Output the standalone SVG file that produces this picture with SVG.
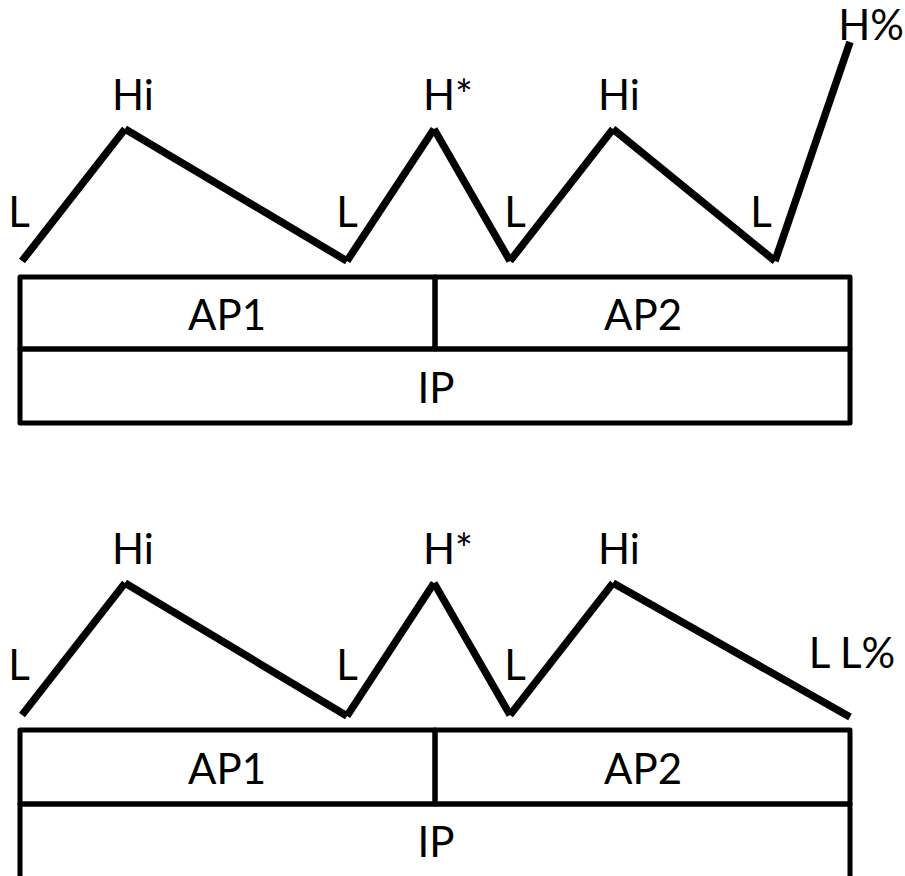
<svg xmlns="http://www.w3.org/2000/svg" width="905" height="876" viewBox="0 0 905 876">
<style>
  text { font-family: Lato, "Open Sans", "Liberation Sans", sans-serif; font-size: 42px; fill: #000; text-anchor: middle; }
  .box { fill: none; stroke: #000; stroke-width: 5; stroke-linejoin: round; stroke-linecap: round; }
  .contour line { stroke: #000; stroke-width: 7.5; stroke-linecap: butt; }
</style>
<rect width="905" height="876" fill="#fff"/>

<!-- Top diagram -->
<g id="top-diagram">
  <g id="top-AP1"><rect class="box" x="20" y="277" width="415" height="72"/><text x="227" y="330">AP1</text></g>
  <g id="top-AP2"><rect class="box" x="435" y="277" width="415" height="72"/><text x="643" y="330">AP2</text></g>
  <g id="top-IP"><rect class="box" x="20" y="349" width="830" height="74"/><text x="436" y="403">IP</text></g>
  <g id="top-t1"><text x="19" y="227">L</text></g>
  <g id="top-t2"><text x="133" y="110">Hi</text></g>
  <g id="top-t3"><text x="347" y="227">L</text></g>
  <g id="top-t4"><text x="448" y="110">H*</text></g>
  <g id="top-t5"><text x="515" y="227">L</text></g>
  <g id="top-t6"><text x="619" y="110">Hi</text></g>
  <g id="top-t7"><text x="761" y="227">L</text></g>
  <g id="top-t8"><text x="871" y="40">H%</text></g>
</g>
<g id="top-connectors" class="contour">
  <line x1="22" y1="261" x2="125" y2="129"/>
  <line x1="125" y1="129" x2="347" y2="261"/>
  <line x1="347" y1="261" x2="434" y2="129"/>
  <line x1="434" y1="129" x2="510" y2="261"/>
  <line x1="510" y1="261" x2="613" y2="129"/>
  <line x1="613" y1="129" x2="775" y2="261"/>
  <line x1="775" y1="261" x2="850" y2="42"/>
</g>

<!-- Bottom diagram -->
<g id="bottom-diagram">
  <g id="bot-AP1"><rect class="box" x="20" y="730" width="415" height="74"/><text x="227" y="784">AP1</text></g>
  <g id="bot-AP2"><rect class="box" x="435" y="730" width="415" height="74"/><text x="643" y="784">AP2</text></g>
  <g id="bot-IP"><rect class="box" x="20" y="804" width="830" height="80"/><text x="436" y="857">IP</text></g>
  <g id="bot-t1"><text x="19" y="680">L</text></g>
  <g id="bot-t2"><text x="133" y="564">Hi</text></g>
  <g id="bot-t3"><text x="347" y="680">L</text></g>
  <g id="bot-t4"><text x="448" y="564">H*</text></g>
  <g id="bot-t5"><text x="515" y="680">L</text></g>
  <g id="bot-t6"><text x="619" y="564">Hi</text></g>
  <g id="bot-t7"><text x="852" y="668">L L%</text></g>
</g>
<g id="bottom-connectors" class="contour">
  <line x1="22" y1="715" x2="125" y2="583"/>
  <line x1="125" y1="583" x2="347" y2="716"/>
  <line x1="347" y1="716" x2="434" y2="583"/>
  <line x1="434" y1="583" x2="510" y2="715"/>
  <line x1="510" y1="715" x2="613" y2="583"/>
  <line x1="613" y1="583" x2="850" y2="717"/>
</g>
</svg>
